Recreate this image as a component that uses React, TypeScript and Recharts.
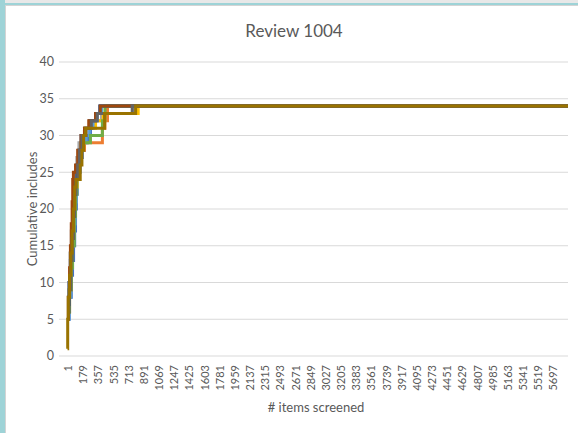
import React from "react";
import { LineChart, Line, XAxis, YAxis, CartesianGrid } from "recharts";

const chartTitle = "Review 1004";
const yAxisTitle = "Cumulative includes";
const xAxisTitle = "# items screened";

const xTickLabels = [1, 179, 357, 535, 713, 891, 1069, 1247, 1425, 1603, 1781, 1959, 2137, 2315, 2493, 2671, 2849, 3027, 3205, 3383, 3561, 3739, 3917, 4095, 4273, 4451, 4629, 4807, 4985, 5163, 5341, 5519, 5697];
const yTickLabels = [0, 5, 10, 15, 20, 25, 30, 35, 40];
const totalItems = 5873;

// step points [item, cumulative includes]
const run1 = [[1, 5], [20, 8], [45, 11], [60, 13], [72, 15], [85, 17], [95, 20], [105, 22], [115, 24], [130, 25], [150, 27], [175, 28], [200, 29], [235, 30], [270, 31], [300, 32], [340, 33], [385, 34]];
const run2 = [[1, 6], [25, 9], [45, 13], [60, 16], [75, 19], [88, 22], [100, 24], [120, 25], [140, 27], [165, 28], [200, 29], [410, 31], [440, 32], [470, 34]];
const run3 = [[1, 7], [15, 10], [30, 14], [45, 17], [60, 20], [75, 23], [90, 25], [110, 27], [135, 29], [170, 30], [210, 31], [260, 32], [400, 33], [780, 34]];
const run4 = [[1, 6], [20, 9], [40, 12], [55, 15], [70, 18], [85, 21], [100, 23], [115, 25], [135, 27], [160, 29], [200, 31], [330, 32], [420, 33], [830, 34]];
const run5 = [[1, 5], [20, 8], [40, 12], [55, 15], [70, 18], [90, 21], [105, 24], [125, 26], [150, 28], [180, 29], [220, 30], [260, 31], [300, 32], [350, 33], [400, 34]];
const run6 = [[1, 6], [25, 9], [45, 12], [60, 15], [80, 19], [95, 22], [110, 24], [130, 26], [150, 28], [180, 29], [270, 30], [410, 32], [440, 34]];
const run7 = [[1, 7], [20, 10], [35, 13], [50, 16], [65, 19], [80, 22], [95, 24], [110, 26], [130, 28], [160, 30], [200, 31], [260, 32], [330, 33], [380, 34]];
const run8 = [[1, 5], [10, 8], [25, 12], [35, 15], [45, 18], [55, 21], [62, 24], [70, 25], [95, 26], [120, 28], [160, 30], [200, 31], [250, 32], [330, 33], [385, 34]];
const run9 = [[1, 6], [20, 9], [40, 13], [55, 16], [70, 19], [85, 22], [100, 24], [120, 26], [140, 28], [170, 30], [220, 31], [280, 32], [350, 33], [760, 34]];
const run10 = [[1, 1], [3, 5], [10, 8], [25, 11], [40, 14], [55, 17], [70, 20], [85, 23], [100, 24], [150, 26], [170, 28], [190, 30], [213, 31], [436, 33], [800, 34]];

const runs = [run1, run2, run3, run4, run5, run6, run7, run8, run9, run10];
const colors = ["#4472C4", "#ED7D31", "#A5A5A5", "#FFC000", "#5B9BD5", "#70AD47", "#264478", "#9E480E", "#636363", "#997300"];

const toData = (pts: number[][]) => {
  const d = pts.map(([x, y]) => ({ x, y }));
  d.push({ x: totalItems, y: pts[pts.length - 1][1] });
  return d;
};

const FONT = "Lato, 'Open Sans', sans-serif";
const TXT = "#595959";

const XTick = (props: any) => {
  const { x, y, payload } = props;
  return (
    <text
      x={x}
      y={y}
      transform={`rotate(-90, ${x}, ${y})`}
      textAnchor="end"
      dominantBaseline="central"
      fontSize={11}
      fontFamily={FONT}
      fill={TXT}
    >
      {payload.value}
    </text>
  );
};

export default function App() {
  return (
    <div style={{ position: "absolute", left: 0, top: 0, width: 578, height: 433, background: "#fff", overflow: "hidden", fontFamily: FONT }}>
      <div style={{ position: "absolute", left: 0, top: 0, width: 578, height: 3, background: "#e8e8e8" }} />
      <div style={{ position: "absolute", left: 0, top: 3, width: 578, height: 2, background: "#9ed3d7" }} />
      <div style={{ position: "absolute", left: 0, top: 5, width: 578, height: 1, background: "#d4d4d4" }} />
      <div style={{ position: "absolute", left: 0, top: 0, width: 5, height: 433, background: "#9ed3d7" }} />
      <div style={{ position: "absolute", left: 5, top: 5, width: 1, height: 428, background: "#d4d4d4" }} />
      <LineChart width={578} height={433} margin={{ top: 62, right: 10, bottom: 0, left: 0 }}>
        <CartesianGrid vertical={false} stroke="#d9d9d9" />
        <XAxis
          dataKey="x"
          type="number"
          domain={[-99, totalItems]}
          ticks={xTickLabels}
          interval={0}
          axisLine={false}
          tickLine={false}
          tickSize={0}
          tickMargin={9}
          height={77}
          tick={<XTick />}
          allowDataOverflow
        />
        <YAxis
          type="number"
          domain={[0, 40]}
          ticks={yTickLabels}
          axisLine={false}
          tickLine={false}
          tickSize={0}
          tickMargin={5}
          width={59}
          tick={{ fontSize: 12.5, fill: TXT, fontFamily: FONT }}
        />
        {runs.map((r, i) => (
          <Line
            key={i}
            data={toData(r)}
            dataKey="y"
            type="stepAfter"
            stroke={colors[i]}
            strokeWidth={3}
            dot={false}
            isAnimationActive={false}
          />
        ))}
      </LineChart>
      <div style={{ position: "absolute", left: 194, top: 21, width: 200, textAlign: "center", fontSize: 17, lineHeight: "20px", color: TXT }}>
        {chartTitle}
      </div>
      <div style={{ position: "absolute", left: -68, top: 200, width: 200, height: 18, textAlign: "center", fontSize: 13, lineHeight: "18px", color: TXT, transform: "rotate(-90deg)" }}>
        {yAxisTitle}
      </div>
      <div style={{ position: "absolute", left: 216, top: 398, width: 200, textAlign: "center", fontSize: 13, lineHeight: "18px", color: TXT }}>
        {xAxisTitle}
      </div>
    </div>
  );
}
